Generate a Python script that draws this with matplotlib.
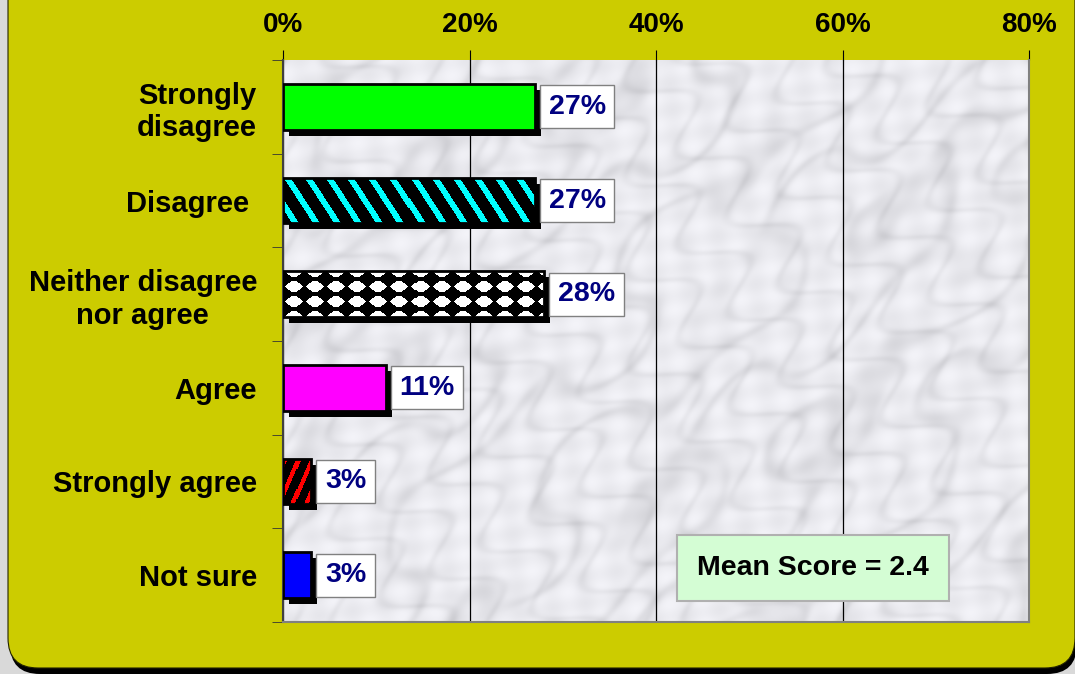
import numpy as np
import matplotlib
matplotlib.use("Agg")
import matplotlib.pyplot as plt
from matplotlib.patches import FancyBboxPatch, Rectangle
from matplotlib.transforms import IdentityTransform, offset_copy

categories = ["Strongly\ndisagree", "Disagree ", "Neither disagree\nnor agree",
              "Agree", "Strongly agree", "Not sure"]
values = [27, 27, 28, 11, 3, 3]
xticks = [0, 20, 40, 60, 80]
mean_text = "Mean Score = 2.4"

plt.rcParams["font.family"] = ["Liberation Sans", "DejaVu Sans"]
plt.rcParams["font.weight"] = "bold"

W, H = 1075, 674
fig = plt.figure(figsize=(W / 100, H / 100), dpi=100)
fig.patch.set_facecolor("#d9d9d9")

# yellow rounded panel with a dark drop shadow (pixel coords)
shadow = FancyBboxPatch((10, 0), W - 8, H + 60, boxstyle="round,pad=0,rounding_size=30",
                        transform=IdentityTransform(), fc="black", ec="none", zorder=-3)
panel = FancyBboxPatch((8, 6), W - 8, H + 60, boxstyle="round,pad=0,rounding_size=30",
                       transform=IdentityTransform(), fc="#cccc00", ec="#222200", lw=0.8,
                       zorder=-2)
fig.patches.extend([shadow, panel])

ax = fig.add_axes([283 / W, 1 - 622 / H, (1029 - 283) / W, (622 - 60) / H])

# marble-like background (smooth deterministic texture)
gx, gy = np.meshgrid(np.linspace(0, 1, 600), np.linspace(0, 1, 450))
warp = 1.2 * np.sin(17 * gy + 5 * gx) + 0.8 * np.sin(23 * gx - 11 * gy)
vein = np.sin(21 * gx + 14 * gy + warp + 0.6 * np.sin(47 * gx + 29 * gy))
vein2 = np.sin(33 * gx - 19 * gy + 1.4 * np.sin(27 * gx + 37 * gy))
tex = 0.93 - 0.06 * np.exp(-(vein * 2.5) ** 2) - 0.045 * np.exp(-(vein2 * 3) ** 2)
tex += 0.025 * np.sin(83 * gx + 61 * gy) * np.sin(71 * gy - 57 * gx)
rgb = np.dstack([tex, tex, np.clip(tex + 0.02, 0, 1)])
ax.imshow(rgb, extent=(0, 80, 5.5, -0.5), aspect="auto", zorder=0, interpolation="bilinear")

ax.set_xlim(0, 80)
ax.set_ylim(5.5, -0.5)
ax.set_axisbelow(True)
ax.grid(axis="x", color="black", lw=0.9)

y = np.arange(len(categories))
bh = 0.49
shadow_tr = offset_copy(ax.transData, fig=fig, x=6, y=-6, units="dots")
ax.barh(y, values, height=bh, color="black", transform=shadow_tr, zorder=2)


def pattern_fill(i, v, kind, col):
    # raster pattern clipped to the bar rectangle
    rect = Rectangle((0, i - bh / 2), v, bh, fc="black", ec="none", zorder=3)
    ax.add_patch(rect)
    px = np.arange(max(int(v * 9.325), 2))[None, :]
    py = np.arange(46)[:, None]
    if kind == "diamond":
        fx = (px / 21.0) % 1 - 0.5
        fy = (py / 15.0 + 0.5) % 1 - 0.5
        on = (np.abs(fx) ** 1.3 + np.abs(fy) ** 1.3) < 0.31
    elif kind == "back":
        on = ((px - 0.65 * py) % 21) < 7
    else:
        on = ((px + 0.43 * py) % 13) < 4.5
    img = np.where(on[..., None], np.array(col), np.zeros(3))
    im = ax.imshow(img, extent=(0, v, i + bh / 2, i - bh / 2),
                   aspect="auto", zorder=3.5, interpolation="nearest")
    im.set_clip_path(rect)


fills = ["#00ff00", ("back", (0, 1, 1)), ("diamond", (1, 1, 1)), "#ff00ff",
         ("fwd", (1, 0, 0)), "#0000ff"]
for i, (v, f) in enumerate(zip(values, fills)):
    if isinstance(f, tuple):
        pattern_fill(i, v, f[0], f[1])
    else:
        ax.barh(i, v, height=bh, color=f, zorder=3)
    ax.barh(i, v, height=bh, fill=False, edgecolor="black", lw=2, zorder=4)
    ax.annotate(f"{v}%", xy=(v, i), xytext=(10, 0), textcoords="offset points",
                ha="left", va="center", fontsize=20.5, color="#000080", fontweight="bold",
                bbox=dict(boxstyle="square,pad=0.3", fc="white", ec="#808080", lw=1),
                zorder=5)

ax.text(0.7105, 0.096, mean_text, transform=ax.transAxes, ha="center", va="center",
        fontsize=20.5, fontweight="bold", color="black", zorder=6,
        bbox=dict(boxstyle="square,pad=0.7", fc="#d4fdd4", ec="#b0b0b0", lw=1.5))

ax.xaxis.tick_top()
ax.set_xticks(xticks)
ax.set_xticklabels([f"{t}%" for t in xticks], fontsize=20, fontweight="bold")
ax.tick_params(axis="x", length=7, pad=9, color="black")
ax.set_yticks(y)
ax.set_yticklabels(categories, fontsize=21, fontweight="bold", multialignment="center")
ax.set_yticks(np.arange(-0.5, 6, 1), minor=True)
ax.tick_params(axis="y", which="major", length=0, pad=18.7)
ax.tick_params(axis="y", which="minor", length=8, color="#333333")

for s in ["right", "bottom", "top"]:
    ax.spines[s].set_color("#808080")
    ax.spines[s].set_linewidth(1.5)
ax.spines["left"].set_color("#404040")
ax.spines["left"].set_linewidth(1.5)
ax.spines["top"].set_visible(False)

fig.savefig("out.png", dpi=100, facecolor=fig.get_facecolor())
